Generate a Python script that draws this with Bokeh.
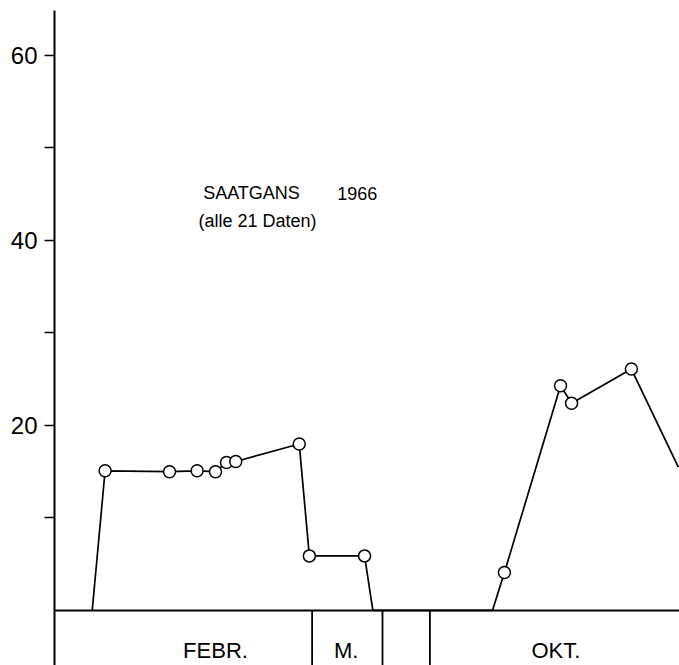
from bokeh.plotting import figure
from bokeh.models import Range1d, FixedTicker, Label
from bokeh.core.properties import value
from bokeh.embed import file_html
from bokeh.resources import INLINE

# ---- data (x in days along a compressed time axis, y = values) ----
line_days = [4.1, 5.5, 12.5, 15.5, 17.5, 18.7, 19.7, 26.6, 27.7, 33.7, 34.6,
             47.6, 48.9, 55.0, 56.2, 62.7, 67.8]
line_vals = [0.0, 15.1, 15.0, 15.1, 15.0, 16.0, 16.1, 18.0, 5.9, 5.9, 0.0,
             0.0, 4.1, 24.3, 22.4, 26.1, 15.5]
point_days = [5.5, 12.5, 15.5, 17.5, 18.7, 19.7, 26.6, 27.7, 33.7,
              48.9, 55.0, 56.2, 62.7]
point_vals = [15.1, 15.0, 15.1, 15.0, 16.0, 16.1, 18.0, 5.9, 5.9,
              4.1, 24.3, 22.4, 26.1]

y_ticks = [20, 40, 60]
y_minor = [10, 30, 50]
month_centers = [17.5, 31.7, 54.5]
month_labels = ["FEBR.", "M.", "OKT."]
separators = [28.0, 35.65, 40.8]

FONT = "Liberation Sans"
X0, X1 = 0, 67.93
Y0, Y1 = -5.95, 64.86

p = figure(width=679, height=665, output_backend="svg", toolbar_location=None,
           x_range=Range1d(X0, X1), y_range=Range1d(Y0, Y1),
           x_axis_location=None,
           min_border_left=54, min_border_right=0, min_border_top=10,
           min_border_bottom=0)
p.outline_line_color = None
p.xgrid.visible = False
p.ygrid.visible = False

# y axis
ya = p.yaxis[0]
ya.ticker = FixedTicker(ticks=y_ticks, minor_ticks=y_minor)
ya.axis_line_width = 2
ya.axis_line_color = "black"
ya.major_tick_in = 0
ya.major_tick_out = 10
ya.minor_tick_in = 0
ya.minor_tick_out = 10
ya.major_tick_line_width = 1.5
ya.minor_tick_line_width = 1.5
ya.major_tick_line_color = "black"
ya.minor_tick_line_color = "black"
ya.major_label_standoff = 7
ya.major_label_text_font = FONT
ya.major_label_text_font_size = "24px"
ya.major_label_text_color = "black"

# baseline and month separators
p.segment(x0=[X0], y0=[0], x1=[X1], y1=[0], line_color="black", line_width=2)
p.segment(x0=separators, y0=[0] * len(separators), x1=separators,
          y1=[Y0] * len(separators), line_color="black", line_width=1.8)
p.text(x=month_centers, y=[-4.3] * len(month_centers), text=month_labels,
       text_font=value(FONT), text_font_size="22px", text_align="center",
       text_baseline="middle", text_color="black")

# data
p.line(line_days, line_vals, line_color="black", line_width=1.7)
p.scatter(point_days, point_vals, size=12, fill_color="white",
          line_color="black", line_width=1.5)

# title text
for txt, x, y in [("SAATGANS", 16.16, 45.08), ("1966", 30.73, 45.08),
                  ("(alle 21 Daten)", 15.65, 42.05)]:
    p.add_layout(Label(x=x, y=y, text=txt, text_font=FONT,
                       text_font_size="18px", text_baseline="middle",
                       text_align="left", text_color="black"))

open("out.html", "w").write(file_html(p, INLINE))
